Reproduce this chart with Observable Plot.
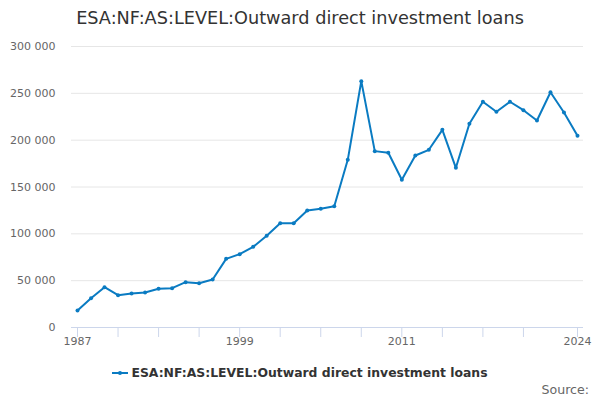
<!DOCTYPE html>
<html>
<head>
<meta charset="utf-8">
<script src="https://cdn.jsdelivr.net/npm/d3@7"></script>
<script src="https://cdn.jsdelivr.net/npm/@observablehq/plot@0.6"></script>
<style>
  html, body { margin: 0; padding: 0; background: #fff; }
  body { width: 600px; height: 400px; position: relative; overflow: hidden; font-family: "DejaVu Sans", sans-serif; }
  #title { position: absolute; left: 0; top: 0; width: 600px; height: 36px; line-height: 36px; text-align: center; font-size: 17.7px; color: #333; }
  #chart { position: absolute; left: 0; top: 36px; }
  #legend { position: absolute; left: 0; top: 364px; width: 600px; text-align: center; font-size: 12.4px; font-weight: bold; color: #333; line-height: 18px; }
  #legend svg { vertical-align: middle; margin-right: 3px; position: relative; top: -1px; }
  #source { position: absolute; right: 11px; top: 382px; font-size: 12.6px; color: #666; }
</style>
</head>
<body>
<div id="title"></div>
<div id="chart"></div>
<div id="legend"></div>
<div id="source">Source:</div>
<script>
const seriesName = "ESA:NF:AS:LEVEL:Outward direct investment loans";
const years = [1987,1988,1989,1990,1991,1992,1993,1994,1995,1996,1997,1998,1999,2000,2001,2002,2003,2004,2005,2006,2007,2008,2009,2010,2011,2012,2013,2014,2015,2016,2017,2018,2019,2020,2021,2022,2023,2024];
const values = [18200,31300,43000,34500,36300,37400,41300,42000,48400,47300,51200,73300,78300,86100,98000,111400,111200,124900,126700,129500,179000,263000,188300,186500,157700,183600,189700,211000,170500,217500,241000,230300,241000,232000,221000,251200,229500,204700];
const xTicks = [1987,1990,1993,1996,1999,2002,2005,2008,2011,2014,2017,2020,2024];
const xLabels = [1987,1999,2011,2024];
const yTicks = [0,50000,100000,150000,200000,250000,300000];

const data = years.map((y, i) => ({year: y, value: values[i]}));
const color = "#0a7bc2";
const fmt = d => d3.format(",")(d).replace(/,/g, " ");

document.getElementById("title").textContent = seriesName;

const plot = Plot.plot({
  width: 600,
  height: 330,
  marginTop: 10,
  marginBottom: 39,
  marginLeft: 71,
  marginRight: 17,
  style: {fontFamily: "DejaVu Sans, sans-serif", fontSize: "11px", color: "#666", background: "#fff"},
  x: {domain: [1987, 2024], inset: 6},
  y: {domain: [0, 300000]},
  marks: [
    Plot.ruleY(yTicks.filter(d => d > 0), {stroke: "#e6e6e6", strokeOpacity: 1}),
    Plot.ruleY([0], {stroke: "#ccd6eb", strokeOpacity: 1}),
    Plot.axisY({ticks: yTicks, tickSize: 0, tickPadding: 16, tickFormat: fmt, label: null, fill: "#666"}),
    Plot.axisX({ticks: xTicks, tickSize: 10, tickPadding: 0, stroke: "#ccd6eb", strokeOpacity: 1, tickFormat: d => xLabels.includes(d) ? String(d) : "", label: null, fill: "#666"}),
    Plot.line(data, {x: "year", y: "value", stroke: color, strokeWidth: 2}),
    Plot.dot(data, {x: "year", y: "value", fill: color, r: 2})
  ]
});
document.getElementById("chart").appendChild(plot);

const legend = document.getElementById("legend");
legend.innerHTML = `<svg width="16" height="10"><line x1="0" y1="5" x2="16" y2="5" stroke="${color}" stroke-width="2"></line><circle cx="8" cy="5" r="2" fill="${color}"></circle></svg>`;
const span = document.createElement("span");
span.textContent = seriesName;
legend.appendChild(span);
</script>
</body>
</html>
